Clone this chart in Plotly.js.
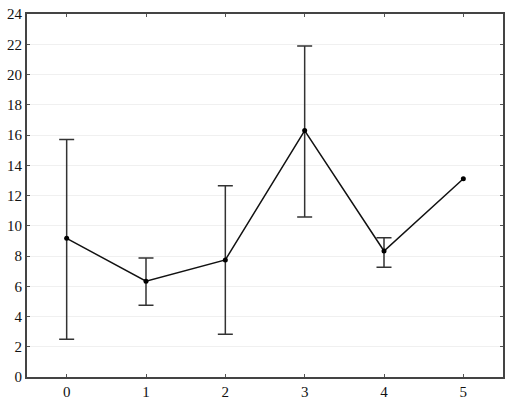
<!DOCTYPE html>
<html>
<head>
<meta charset="utf-8">
<script src="https://cdn.plot.ly/plotly-3.0.1.min.js"></script>
<style>html,body{margin:0;padding:0;background:#fff;}#chart{width:511px;height:402px;}</style>
</head>
<body>
<div id="chart"></div>
<script>
const categories = [0, 1, 2, 3, 4, 5];
const means = [9.17, 6.33, 7.74, 16.29, 8.33, 13.11];
// error bars exist only for the first five groups
const upperErr = [6.54, 1.54, 4.91, 5.59, 0.88];
const lowerErr = [6.68, 1.59, 4.92, 5.71, 1.08];
const yTicks = [0, 2, 4, 6, 8, 10, 12, 14, 16, 18, 20, 22, 24];

const nErr = upperErr.length;
const errTrace = {
  x: categories.slice(0, nErr),
  y: means.slice(0, nErr),
  type: 'scatter',
  mode: 'markers',
  marker: {color: 'rgba(0,0,0,0)', size: 1},
  error_y: {
    type: 'data',
    symmetric: false,
    array: upperErr,
    arrayminus: lowerErr,
    visible: true,
    color: '#333',
    thickness: 1.5,
    width: 7.5
  },
  showlegend: false
};

const lineTrace = {
  x: categories,
  y: means,
  type: 'scatter',
  mode: 'lines+markers',
  line: {color: '#111', width: 1.5},
  marker: {color: '#000', size: 5},
  showlegend: false
};

const axisFont = {family: 'Times New Roman, Liberation Serif, DejaVu Serif, serif', size: 15, color: '#111'};

const layout = {
  width: 511,
  height: 402,
  margin: {l: 27, r: 8, t: 14, b: 25},
  paper_bgcolor: '#fff',
  plot_bgcolor: '#fff',
  font: axisFont,
  xaxis: {
    range: [-0.5, 5.5],
    tickvals: categories,
    ticktext: categories.map(String),
    ticks: 'inside',
    ticklen: 3,
    tickcolor: '#555',
    showline: true,
    linecolor: '#444',
    linewidth: 2,
    mirror: 'ticks',
    showgrid: false,
    zeroline: false,
    tickfont: axisFont
  },
  yaxis: {
    range: [0, 24],
    tickvals: yTicks,
    ticktext: yTicks.map(String),
    ticks: 'inside',
    ticklen: 3,
    tickcolor: '#555',
    showline: true,
    linecolor: '#444',
    linewidth: 2,
    mirror: 'ticks',
    showgrid: true,
    gridcolor: '#f0f0f0',
    gridwidth: 1,
    zeroline: false,
    tickfont: axisFont
  }
};

Plotly.newPlot('chart', [errTrace, lineTrace], layout, {displayModeBar: false, staticPlot: true});
</script>
</body>
</html>
